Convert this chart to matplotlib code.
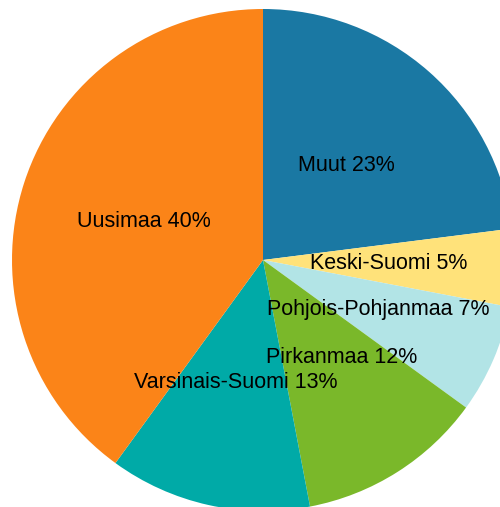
import numpy as np
import matplotlib
matplotlib.use("Agg")
import matplotlib.pyplot as plt

# data, clockwise from 12 o'clock
regions = ["Muut", "Keski-Suomi", "Pohjois-Pohjanmaa", "Pirkanmaa", "Varsinais-Suomi", "Uusimaa"]
shares = [23, 5, 7, 12, 13, 40]
colors = ["#1a78a3", "#ffe27a", "#b2e4e6", "#7ab82a", "#00aaa7", "#fb8418"]

labels = [f"{r} {s}%" for r, s in zip(regions, shares)]

plt.rcParams['font.family'] = ['Liberation Sans', 'DejaVu Sans']

W, H = 500, 507
fig = plt.figure(figsize=(W / 100, H / 100), dpi=100)

# pie centre and radius in pixels (pie is cut off at right and bottom)
cx, cy, R = 263, 260, 251
ax = fig.add_axes([(cx - R) / W, (H - cy - R) / H, 2 * R / W, 2 * R / H])

wedges, texts = ax.pie(shares, labels=labels, colors=colors, startangle=90, counterclock=False,
                       labeldistance=0.5, radius=1,
                       wedgeprops=dict(linewidth=0),
                       textprops=dict(fontsize=15.5, color="black", ha="center", va="center"))

# Pirkanmaa label sits a bit up the slice in the original, nudge it
x, y = texts[3].get_position()
a = np.deg2rad(6.5)
texts[3].set_position((x * np.cos(a) - y * np.sin(a), x * np.sin(a) + y * np.cos(a)))

ax.set_xlim(-1, 1)
ax.set_ylim(-1, 1)
ax.set_aspect('auto')
ax.axis('off')

fig.savefig("out.png", dpi=100)
